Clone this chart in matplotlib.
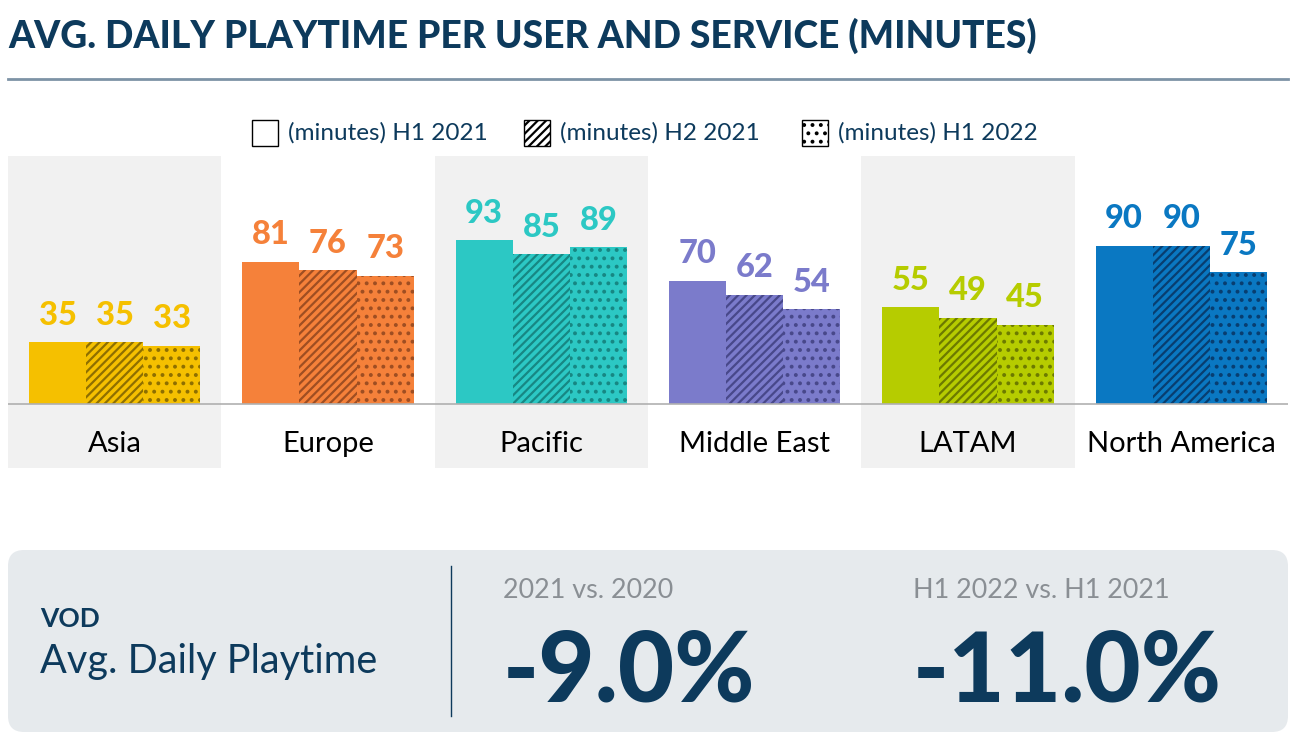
import matplotlib.pyplot as plt
from matplotlib.patches import Rectangle, FancyBboxPatch

plt.rcParams['font.family'] = ['Lato', 'DejaVu Sans']
plt.rcParams['hatch.linewidth'] = 1.6

regions = ["Asia", "Europe", "Pacific", "Middle East", "LATAM", "North America"]
h1_2021 = [35, 81, 93, 70, 55, 90]
h2_2021 = [35, 76, 85, 62, 49, 90]
h1_2022 = [33, 73, 89, 54, 45, 75]
series_names = ["(minutes) H1 2021", "(minutes) H2 2021", "(minutes) H1 2022"]

colors = ["#F5C000", "#F5813A", "#2CC8C4", "#7B7BCB", "#B6CC00", "#0A78C2"]
dark = ["#8E6F00", "#9E4E22", "#178783", "#48488A", "#6C7A00", "#083E70"]

summary_labels = ["2021 vs. 2020", "H1 2022 vs. H1 2021"]
summary_values = ["-9.0%", "-11.0%"]

navy = "#0D3A5C"

W, H = 1314, 753
fig = plt.figure(figsize=(W / 100, H / 100), dpi=100)

# overlay in pixel coords for title, legend and summary panel
bg = fig.add_axes([0, 0, 1, 1])
bg.set_xlim(0, W)
bg.set_ylim(H, 0)
bg.axis("off")

bg.text(8, 36, "AVG. DAILY PLAYTIME PER USER AND SERVICE (MINUTES)", fontsize=26.8,
        fontweight="black", color=navy, va="center", ha="left")
bg.plot([8, 1288], [79, 79], color="#7D93A6", lw=2)

# legend
hatches = [None, "////", ".."]
leg_x = [252, 524, 802]
for x, hatch, name in zip(leg_x, hatches, series_names):
    bg.add_patch(Rectangle((x, 120), 26, 26, facecolor="white", edgecolor="black",
                           lw=1, hatch=hatch))
    bg.text(x + 36, 133, name, fontsize=17.5, color=navy, va="center", ha="left")

# summary panel
bg.add_patch(FancyBboxPatch((8, 550), 1280, 182, boxstyle="round,pad=0,rounding_size=16",
                            facecolor="#E6EAED", edgecolor="none"))
bg.plot([451, 451], [566, 716], color=navy, lw=1)
bg.text(40, 619, "VOD", fontsize=19, fontweight="bold", color=navy, va="center")
bg.text(40, 662, "Avg. Daily Playtime", fontsize=28.5, color=navy, va="center")
for x, lab, val in zip([503, 913], summary_labels, summary_values):
    bg.text(x, 590, lab, fontsize=19.4, color="#8A8F94", va="center")
    bg.text(x, 673, val, fontsize=70, fontweight="black", color=navy, va="center")

# bar chart
ax = fig.add_axes([8 / W, (H - 468) / H, 1280 / W, (468 - 156) / H])
n = len(regions)
bw = 0.268
for i in range(n):
    if i % 2 == 0:
        ax.axvspan(i - 0.5, i + 0.5, color="#F1F1F1", lw=0, zorder=0)
    vals = [h1_2021[i], h2_2021[i], h1_2022[i]]
    for j, (v, hatch) in enumerate(zip(vals, hatches)):
        x = i + (j - 1) * bw
        ax.bar(x, v, width=bw, color=colors[i], edgecolor=dark[i] if hatch else colors[i],
               lw=0, hatch=hatch, zorder=2)
        ax.annotate(str(v), (x, v), xytext=(0, 9), textcoords="offset points",
                    ha="center", va="bottom", fontsize=23.5, fontweight="black", color=colors[i])
    ax.text(i, -23, regions[i], ha="center", va="center", fontsize=21, color="black")

ax.axhline(0, color="#B0B0B0", lw=1.2, zorder=3)
ax.set_xlim(-0.5, n - 0.5)
ax.set_ylim(-36.4, 141)
ax.axis("off")

fig.savefig("out.png", dpi=100)
